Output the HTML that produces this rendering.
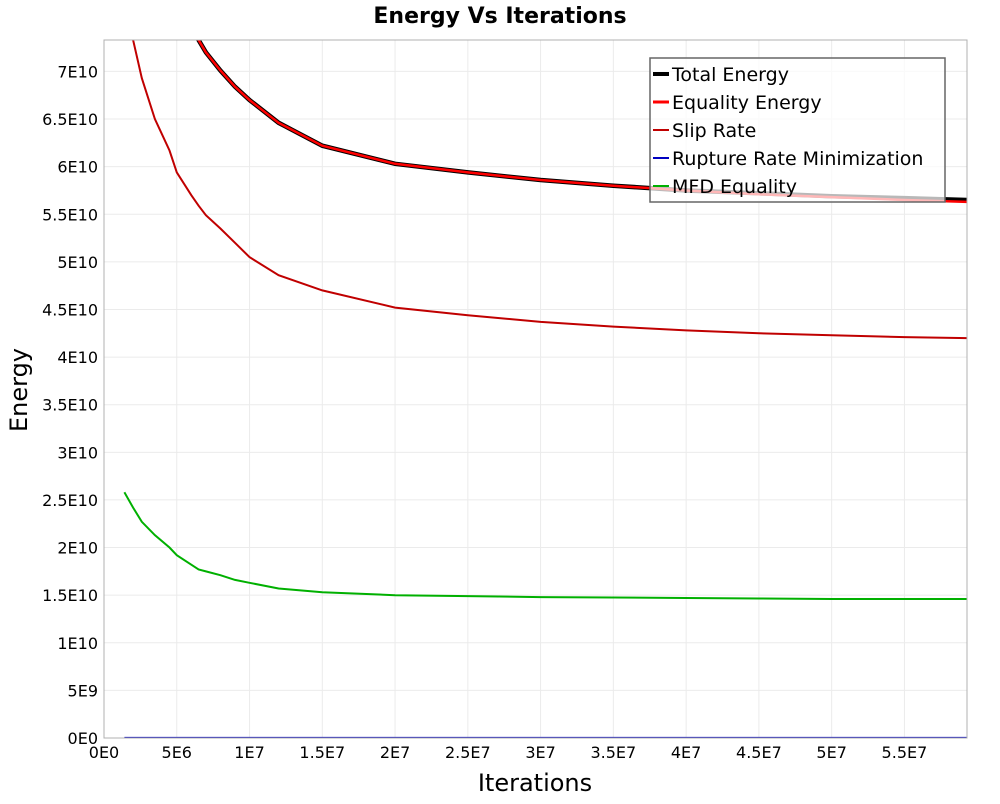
<!DOCTYPE html>
<html><head><meta charset="utf-8"><style>
body{margin:0;background:#fff;font-family:"DejaVu Sans","Liberation Sans",sans-serif;}
svg text{font-family:"DejaVu Sans","Liberation Sans",sans-serif;}
</style></head><body>
<svg id="chart" width="1000" height="800" xmlns="http://www.w3.org/2000/svg">
<text x="500" y="23" text-anchor="middle" font-size="22" font-weight="bold">Energy Vs Iterations</text>
<g id="grid"></g>
<g id="plot"></g>
<g id="axes"></g>
<text transform="translate(27,390) rotate(-90)" text-anchor="middle" font-size="24">Energy</text>
<text x="535" y="791" text-anchor="middle" font-size="24">Iterations</text>
<g id="legend"></g>
</svg>
<script>
const xIter=[1.4e6,2.0e6,2.6e6,3.5e6,4.5e6,5e6,6e6,6.5e6,7e6,8e6,9e6,1e7,1.2e7,1.5e7,2e7,2.5e7,3e7,3.5e7,4e7,4.5e7,5e7,5.5e7,5.93e7];
const totalEnergy=[1.5e11,1.3e11,1.15e11,1.0e11,0.88e11,0.84e11,0.77e11,0.733e11,0.72e11,0.701e11,0.684e11,0.67e11,0.646e11,0.622e11,0.603e11,0.594e11,0.586e11,0.580e11,0.575e11,0.572e11,0.569e11,0.567e11,0.565e11];
const equalityEnergy=[1.5e11,1.3e11,1.15e11,1.0e11,0.88e11,0.84e11,0.77e11,0.733e11,0.72e11,0.701e11,0.684e11,0.67e11,0.646e11,0.622e11,0.603e11,0.594e11,0.586e11,0.580e11,0.575e11,0.571e11,0.568e11,0.565e11,0.563e11];
const slipRate=[0.9e11,0.733e11,0.693e11,0.65e11,0.617e11,0.594e11,0.570e11,0.559e11,0.549e11,0.535e11,0.520e11,0.505e11,0.486e11,0.470e11,0.452e11,0.444e11,0.437e11,0.432e11,0.428e11,0.425e11,0.423e11,0.421e11,0.420e11];
const ruptureRate=[1e7,1e7,1e7,1e7,1e7,1e7,1e7,1e7,1e7,1e7,1e7,1e7,1e7,1e7,1e7,1e7,1e7,1e7,1e7,1e7,1e7,1e7,1e7];
const mfdEquality=[2.58e10,2.42e10,2.27e10,2.13e10,2.0e10,1.92e10,1.82e10,1.77e10,1.75e10,1.71e10,1.66e10,1.63e10,1.57e10,1.53e10,1.50e10,1.49e10,1.48e10,1.475e10,1.47e10,1.465e10,1.46e10,1.46e10,1.46e10];
const yTicks=["0E0","5E9","1E10","1.5E10","2E10","2.5E10","3E10","3.5E10","4E10","4.5E10","5E10","5.5E10","6E10","6.5E10","7E10"];
const xTicks=["0E0","5E6","1E7","1.5E7","2E7","2.5E7","3E7","3.5E7","4E7","4.5E7","5E7","5.5E7"];
const seriesNames=["Total Energy","Equality Energy","Slip Rate","Rupture Rate Minimization","MFD Equality"];

const L=104,R=967,T=40,B=738;
const xMax=5.93e7, yMax=7.33e10;
const X=v=>L+v/xMax*(R-L);
const Y=v=>B-v/yMax*(B-T);
const NS="http://www.w3.org/2000/svg";
function mk(tag,parent){const e=document.createElementNS(NS,tag);parent.appendChild(e);return e;}
const grid=document.getElementById('grid'),axes=document.getElementById('axes'),plot=document.getElementById('plot'),leg=document.getElementById('legend');
yTicks.forEach((t,i)=>{const v=i*5e9,y=Y(v);
 const g=mk('line',grid);g.setAttribute('x1',L);g.setAttribute('x2',R);g.setAttribute('y1',y);g.setAttribute('y2',y);g.setAttribute('stroke','#ebebeb');
 
 
 const tx=mk('text',axes);tx.setAttribute('x',L-6);tx.setAttribute('y',y+6);tx.setAttribute('text-anchor','end');tx.setAttribute('font-size','16');tx.textContent=t;
 
 
});
xTicks.forEach((t,i)=>{const v=i*5e6,x=X(v);
 const g=mk('line',grid);g.setAttribute('x1',x);g.setAttribute('x2',x);g.setAttribute('y1',T);g.setAttribute('y2',B);g.setAttribute('stroke','#ebebeb');
 
 
 const tx=mk('text',axes);tx.setAttribute('x',x);tx.setAttribute('y',B+20);tx.setAttribute('text-anchor','middle');tx.setAttribute('font-size','16');tx.textContent=t;
 
 
});
const frame=mk('rect',axes);frame.setAttribute('x',L);frame.setAttribute('y',T);frame.setAttribute('width',R-L);frame.setAttribute('height',B-T);frame.setAttribute('fill','none');frame.setAttribute('stroke','#b0b0b0');


const cp=mk('clipPath',plot);cp.setAttribute('id','clip');const cr=mk('rect',cp);cr.setAttribute('x',L);cr.setAttribute('y',T);cr.setAttribute('width',R-L);cr.setAttribute('height',B-T);
const series=[[totalEnergy,'#000',4.5,'total-energy-line'],[equalityEnergy,'#f00',2.5,'equality-energy-line'],[slipRate,'#c00000',2,'slip-rate-line'],[ruptureRate,'#0000c0',2,'rupture-rate-line'],[mfdEquality,'#00b000',2,'mfd-equality-line']];
series.forEach(s=>{const p=mk('polyline',plot);p.setAttribute('points',s[0].map((v,i)=>X(xIter[i]).toFixed(1)+','+Y(v).toFixed(1)).join(' '));
 p.setAttribute('fill','none');p.setAttribute('stroke',s[1]);p.setAttribute('stroke-width',s[2]);p.setAttribute('clip-path','url(#clip)');
 
 
});
const lb=mk('rect',leg);lb.setAttribute('x',650);lb.setAttribute('y',58);lb.setAttribute('width',295);lb.setAttribute('height',144);lb.setAttribute('fill','rgba(255,255,255,0.72)');lb.setAttribute('stroke','#666');lb.setAttribute('stroke-width','1.5');


const lc=['#000','#f00','#c00000','#0000c0','#00b000'],lw=[4,3,2,2,2];
seriesNames.forEach((n,i)=>{const y=74+i*28;
 const l=mk('line',leg);l.setAttribute('x1',653);l.setAttribute('x2',669);l.setAttribute('y1',y);l.setAttribute('y2',y);l.setAttribute('stroke',lc[i]);l.setAttribute('stroke-width',lw[i]);
 
 
 const t=mk('text',leg);t.setAttribute('x',672);t.setAttribute('y',y+7);t.setAttribute('font-size','19');t.textContent=n;
 
 
});
</script>
</body></html>
